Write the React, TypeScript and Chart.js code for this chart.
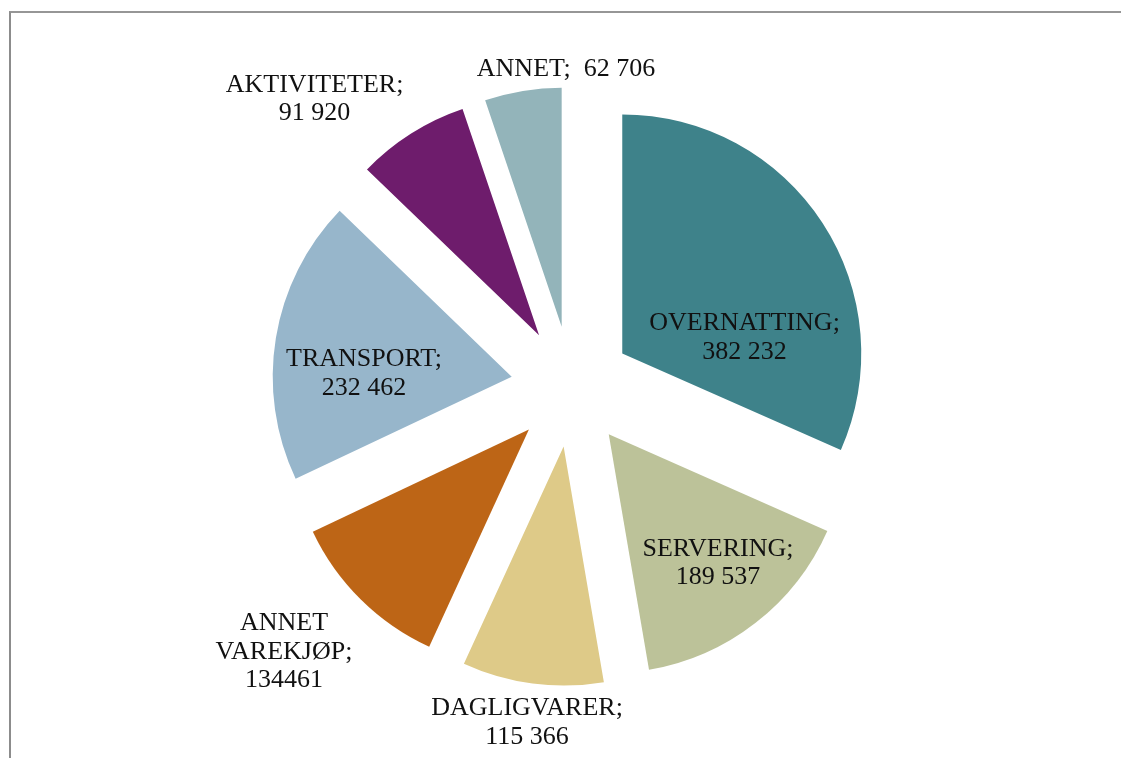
import React, { useEffect, useRef } from "react";
import { Chart, registerables } from "chart.js";

Chart.register(...registerables);

const categories = [
  "OVERNATTING",
  "SERVERING",
  "DAGLIGVARER",
  "ANNET VAREKJØP",
  "TRANSPORT",
  "AKTIVITETER",
  "ANNET",
];
const values = [382232, 189537, 115366, 134461, 232462, 91920, 62706];
const labelLines = [
  ["OVERNATTING;", "382 232"],
  ["SERVERING;", "189 537"],
  ["DAGLIGVARER;", "115 366"],
  ["ANNET", "VAREKJØP;", "134461"],
  ["TRANSPORT;", "232 462"],
  ["AKTIVITETER;", "91 920"],
  ["ANNET;  62 706"],
];
const colors = ["#3E828A", "#BCC299", "#DECA88", "#BD6516", "#97B6CB", "#6E1C6C", "#93B4BA"];
// label block centre relative to pie centre, in units of the radius
const labelOffsets: [number, number][] = [
  [0.724, -0.211],
  [0.613, 0.734],
  [-0.186, 1.4],
  [-1.203, 1.104],
  [-0.868, -0.059],
  [-1.075, -1.208],
  [-0.023, -1.333],
];
const EXPLODE = 0.2535; // fraction of radius
const FONT_SIZE = 26;
const LINE_H = 28.5;

const explodePlugin = {
  id: "explode",
  beforeDatasetDraw(chart: any, args: any) {
    const ctx = chart.ctx;
    const meta = args.meta;
    meta.data.forEach((arc: any) => {
      const mid = (arc.startAngle + arc.endAngle) / 2;
      const d = arc.outerRadius * EXPLODE;
      ctx.save();
      ctx.translate(Math.cos(mid) * d, Math.sin(mid) * d);
      arc.draw(ctx);
      ctx.restore();
    });
    return false;
  },
  afterDatasetsDraw(chart: any) {
    const ctx = chart.ctx;
    const meta = chart.getDatasetMeta(0);
    ctx.save();
    ctx.font = `${FONT_SIZE}px "Liberation Serif", "Times New Roman", serif`;
    ctx.fillStyle = "#111";
    ctx.textAlign = "center";
    ctx.textBaseline = "alphabetic";
    const cap = FONT_SIZE * 0.64;
    meta.data.forEach((arc: any, i: number) => {
      const r = arc.outerRadius;
      const cx = arc.x + labelOffsets[i][0] * r;
      const cy = arc.y + labelOffsets[i][1] * r;
      const lines = labelLines[i];
      const n = lines.length;
      const first = cy - ((n - 1) * LINE_H) / 2 + cap / 2;
      lines.forEach((t, k) => ctx.fillText(t, cx, first + k * LINE_H));
    });
    ctx.restore();
  },
};

export default function App() {
  const ref = useRef<HTMLCanvasElement>(null);
  useEffect(() => {
    if (!ref.current) return;
    const chart = new Chart(ref.current, {
      type: "pie",
      data: {
        labels: categories,
        datasets: [
          {
            data: values,
            backgroundColor: colors,
            borderWidth: 0,
          },
        ],
      },
      options: {
        responsive: false,
        animation: false,
        devicePixelRatio: 1,
        radius: 239,
        layout: { padding: { left: 22, top: 15, right: 0, bottom: 0 } },
        plugins: {
          legend: { display: false },
          tooltip: { enabled: false },
        },
        events: [],
      } as any,
      plugins: [explodePlugin],
    });
    return () => chart.destroy();
  }, []);
  return (
    <div
      style={{
        position: "fixed",
        left: 0,
        top: 0,
        width: 1121,
        height: 758,
        overflow: "hidden",
        background: "#fff",
      }}
    >
      <div
        style={{
          position: "absolute",
          left: 9,
          top: 11,
          width: 1200,
          height: 900,
          borderTop: "2px solid #969696",
          borderLeft: "2px solid #8c8c8c",
          boxSizing: "border-box",
        }}
      />
      <canvas
        ref={ref}
        width={1121}
        height={758}
        style={{ position: "absolute", left: 0, top: 0, width: 1121, height: 758 }}
      />
    </div>
  );
}
